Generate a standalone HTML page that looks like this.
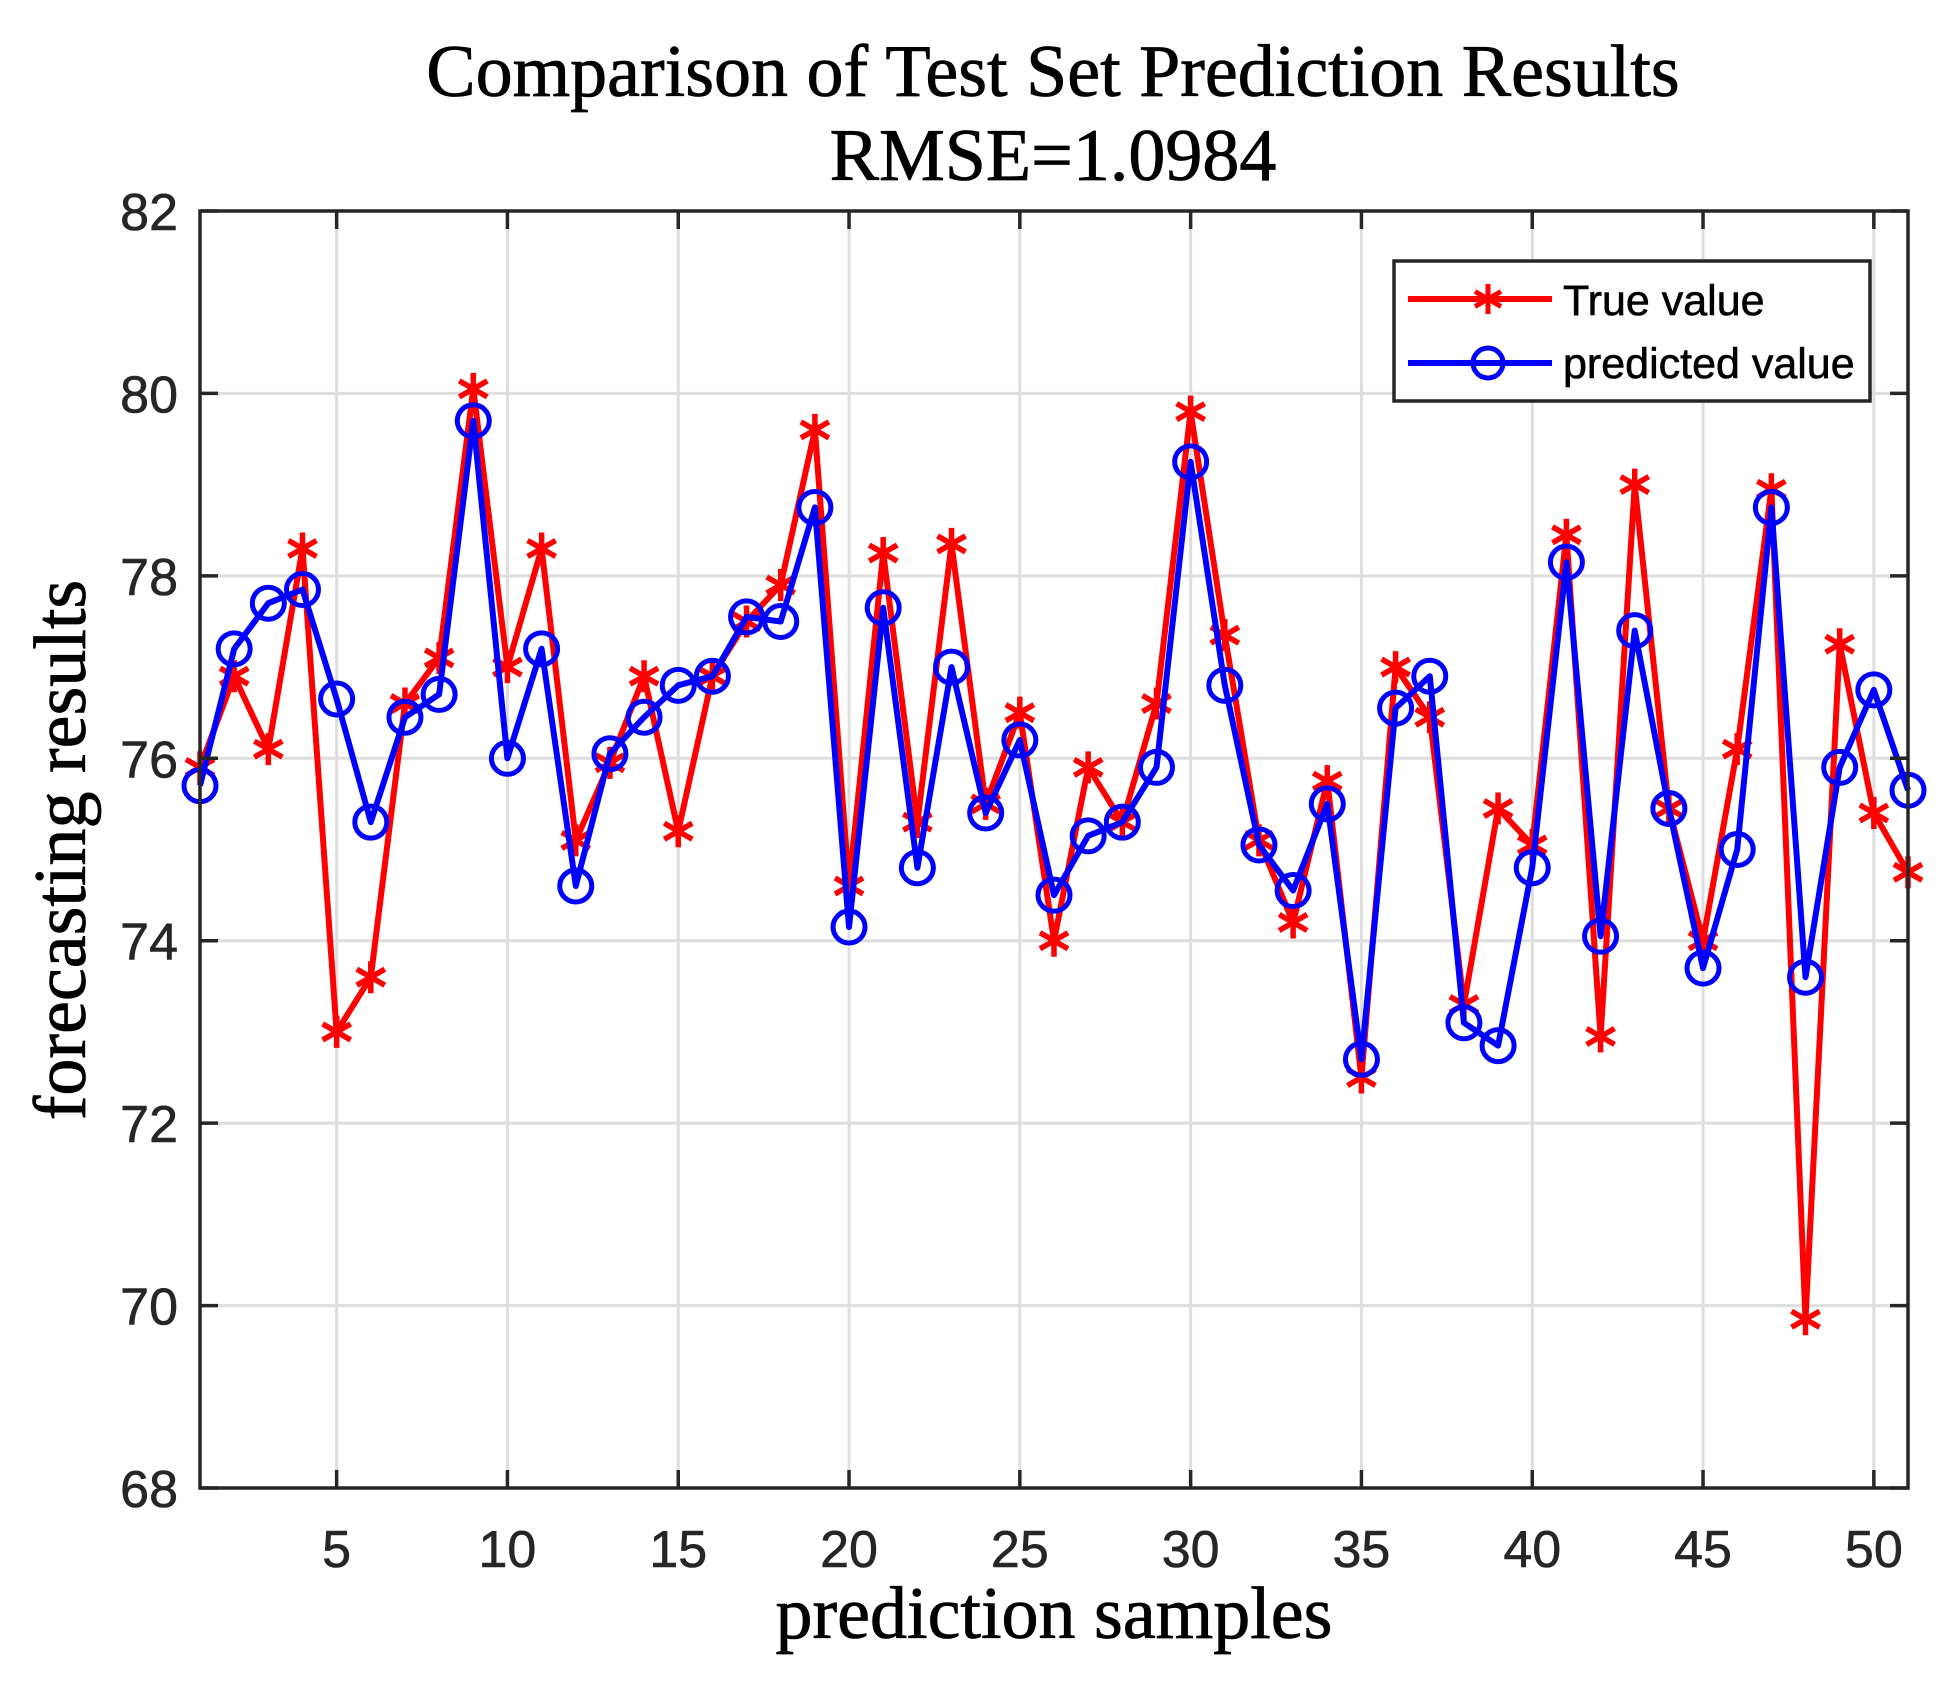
<!DOCTYPE html>
<html><head><meta charset="utf-8"><style>
html,body{margin:0;padding:0;background:#fff;}
svg{display:block;}
</style></head><body>
<svg id="chart" width="1957" height="1685" xmlns="http://www.w3.org/2000/svg">
<rect width="1957" height="1685" fill="#fff"/>
<g id="grid"></g>
<g id="series"></g>
<rect x="200" y="211" width="1708" height="1277" fill="none" stroke="#262626" stroke-width="3.5"/>
<g id="ticks"></g>
<text x="1053" y="96" text-anchor="middle" font-family="Liberation Serif, serif" font-size="74" fill="#000" stroke="#000" stroke-width="0.8">Comparison of Test Set Prediction Results</text>
<text x="1053" y="180" text-anchor="middle" font-family="Liberation Serif, serif" font-size="74" fill="#000" stroke="#000" stroke-width="0.8">RMSE=1.0984</text>
<text x="1054" y="1638" text-anchor="middle" font-family="Liberation Serif, serif" font-size="74" fill="#000" stroke="#000" stroke-width="0.8">prediction samples</text>
<text transform="translate(85,850) rotate(-90)" text-anchor="middle" font-family="Liberation Serif, serif" font-size="74" fill="#000" stroke="#000" stroke-width="0.8">forecasting results</text>
<g>
<rect x="1394" y="261" width="476" height="140" fill="#fff" stroke="#262626" stroke-width="3.5"/>
<g>
<line x1="1408" y1="299" x2="1552" y2="299" stroke="#f00" stroke-width="6"/>
<path d="M1488 284V314M1475 291.5L1501 306.5M1475 306.5L1501 291.5" stroke="#f00" stroke-width="5"/>
<text x="1563" y="315" font-family="Liberation Sans, sans-serif" font-size="43" fill="#000" stroke="#000" stroke-width="0.6">True value</text>
</g>
<g>
<line x1="1408" y1="363" x2="1552" y2="363" stroke="#00f" stroke-width="6"/>
<circle cx="1488" cy="363" r="15" fill="none" stroke="#00f" stroke-width="5"/>
<text x="1563" y="378" font-family="Liberation Sans, sans-serif" font-size="43" fill="#000" stroke="#000" stroke-width="0.6">predicted value</text>
</g>
</g>
</svg>
<script>
const trueValues=[75.9,76.9,76.1,78.3,73.0,73.6,76.6,77.1,80.05,77.0,78.3,75.1,75.95,76.9,75.2,76.9,77.5,77.9,79.6,74.6,78.25,75.3,78.35,75.5,76.5,74.0,75.9,75.3,76.6,79.8,77.35,75.1,74.2,75.75,72.5,77.0,76.45,73.3,75.45,75.05,78.45,72.95,79.0,75.45,74.0,76.1,78.95,69.85,77.25,75.4,74.75];
const predictedValues=[75.7,77.2,77.7,77.85,76.65,75.3,76.45,76.7,79.7,76.0,77.2,74.6,76.05,76.45,76.8,76.9,77.55,77.5,78.75,74.15,77.65,74.8,77.0,75.4,76.2,74.5,75.15,75.3,75.9,79.25,76.8,75.05,74.55,75.5,72.7,76.55,76.9,73.1,72.85,74.8,78.15,74.05,77.4,75.45,73.7,75.0,78.75,73.6,75.9,76.75,75.65];
const xTicks=[5,10,15,20,25,30,35,40,45,50];
const yTicks=[68,70,72,74,76,78,80,82];
const NS='http://www.w3.org/2000/svg';
const L=200,R=1908,T=211,B=1488,xMin=1,xMax=51,yMin=68,yMax=82;
const xs=v=>L+(v-xMin)/(xMax-xMin)*(R-L);
const ys=v=>B-(v-yMin)/(yMax-yMin)*(B-T);
function mk(tag,attrs,parent){const e=document.createElementNS(NS,tag);for(const k in attrs)e.setAttribute(k,attrs[k]);parent.appendChild(e);return e;}
const grid=document.getElementById('grid'),ticks=document.getElementById('ticks'),series=document.getElementById('series');
xTicks.forEach(t=>{
  const g=mk('line',{x1:xs(t),x2:xs(t),y1:T,y2:B,stroke:'#dedede','stroke-width':3},grid);
  
  
  [[B,B-18],[T,T+18]].forEach(p=>{const tk=mk('line',{x1:xs(t),x2:xs(t),y1:p[0],y2:p[1],stroke:'#262626','stroke-width':3.5},ticks);
    
    });
  const lb=mk('text',{x:xs(t),y:1567,'text-anchor':'middle','font-family':'Liberation Sans, sans-serif','font-size':52,fill:'#262626',stroke:'#262626','stroke-width':0.6},ticks);
  lb.textContent=t;
  
  
});
yTicks.forEach(t=>{
  if(t>yMin&&t<yMax){const g=mk('line',{x1:L,x2:R,y1:ys(t),y2:ys(t),stroke:'#dedede','stroke-width':3},grid);
  
  }
  [[L,L+18],[R,R-18]].forEach(p=>{const tk=mk('line',{x1:p[0],x2:p[1],y1:ys(t),y2:ys(t),stroke:'#262626','stroke-width':3.5},ticks);
    
    });
  const lb=mk('text',{x:178,y:ys(t)+19,'text-anchor':'end','font-family':'Liberation Sans, sans-serif','font-size':52,fill:'#262626',stroke:'#262626','stroke-width':0.6},ticks);
  lb.textContent=t;
  
  
});
function drawSeries(vals,color,name,marker){
  const pts=vals.map((v,i)=>xs(i+1).toFixed(1)+','+ys(v).toFixed(1)).join(' ');
  const pl=mk('polyline',{points:pts,fill:'none',stroke:color,'stroke-width':6,'stroke-linejoin':'round'},series);
  
  
  vals.forEach((v,i)=>{
    const x=xs(i+1),y=ys(v);let m;
    if(marker==='star'){m=mk('path',{d:`M${x} ${y-16}V${y+16}M${x-14} ${y-8}L${x+14} ${y+8}M${x-14} ${y+8}L${x+14} ${y-8}`,stroke:color,'stroke-width':5.5},series);}
    else{m=mk('circle',{cx:x,cy:y,r:16,fill:'none',stroke:color,'stroke-width':5},series);}
    
    
  });
}
drawSeries(trueValues,'#f00','true-value','star');
drawSeries(predictedValues,'#00f','predicted-value','circle');
</script>
</body></html>
